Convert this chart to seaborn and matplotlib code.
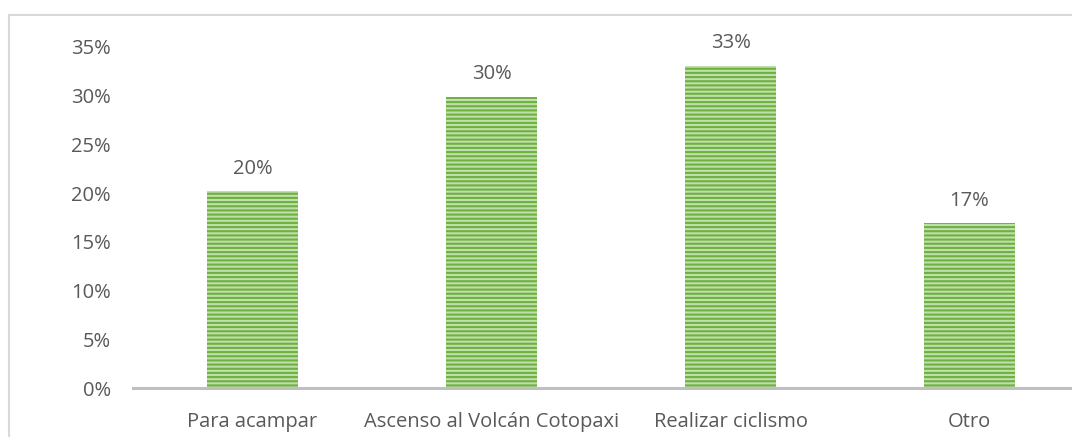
import matplotlib
matplotlib.use("Agg")
import matplotlib.pyplot as plt
import seaborn as sns
import pandas as pd
from matplotlib.ticker import PercentFormatter
from matplotlib.patches import Rectangle

categories = ["Para acampar", "Ascenso al Volcán Cotopaxi", "Realizar ciclismo", "Otro"]
values = [0.202, 0.299, 0.331, 0.169]
value_labels = ["20%", "30%", "33%", "17%"]
yticks = [0, 0.05, 0.10, 0.15, 0.20, 0.25, 0.30, 0.35]

sns.set_theme(style="white")
plt.rcParams['font.family'] = ['Open Sans', 'DejaVu Sans']
plt.rcParams['hatch.linewidth'] = 1.5

df = pd.DataFrame({"cat": categories, "val": values})

fig = plt.figure(figsize=(10.72, 4.37), dpi=100)
ax = fig.add_axes([133 / 1072, 49 / 437, 956 / 1072, 341 / 437])

sns.barplot(data=df, x="cat", y="val", ax=ax, color="#bfe0a8",
            width=0.38, edgecolor="#6fb043", linewidth=0, saturation=1)
for p in ax.patches:
    p.set_hatch("----")
    p.set_edgecolor("#6fb043")
    p.set_linewidth(0)

ax.set_xlim(-0.5, 3.5)
ax.set_ylim(0, 0.35)
ax.set_yticks(yticks)
ax.yaxis.set_major_formatter(PercentFormatter(1, decimals=0))
ax.set_xlabel("")
ax.set_ylabel("")

txt = "#595959"
ax.tick_params(axis="y", length=0, pad=16, labelsize=14.5, labelcolor=txt)
ax.tick_params(axis="x", length=0, pad=17, labelsize=14.5, labelcolor=txt)

for s in ["top", "right", "left"]:
    ax.spines[s].set_visible(False)
ax.spines["bottom"].set_color("#bfbfbf")
ax.spines["bottom"].set_linewidth(2.2)
ax.spines["bottom"].set_clip_on(False)

for container in ax.containers:
    ax.bar_label(container, labels=value_labels, padding=9, fontsize=14.5, color=txt)

frame = Rectangle((9 / 1072, -0.5), 1.5, (437 - 15) / 437 + 0.5, transform=fig.transFigure,
                  fill=False, edgecolor="#d9d9d9", linewidth=1.5, clip_on=False)
fig.patches.append(frame)

fig.savefig("out.png", dpi=100)
